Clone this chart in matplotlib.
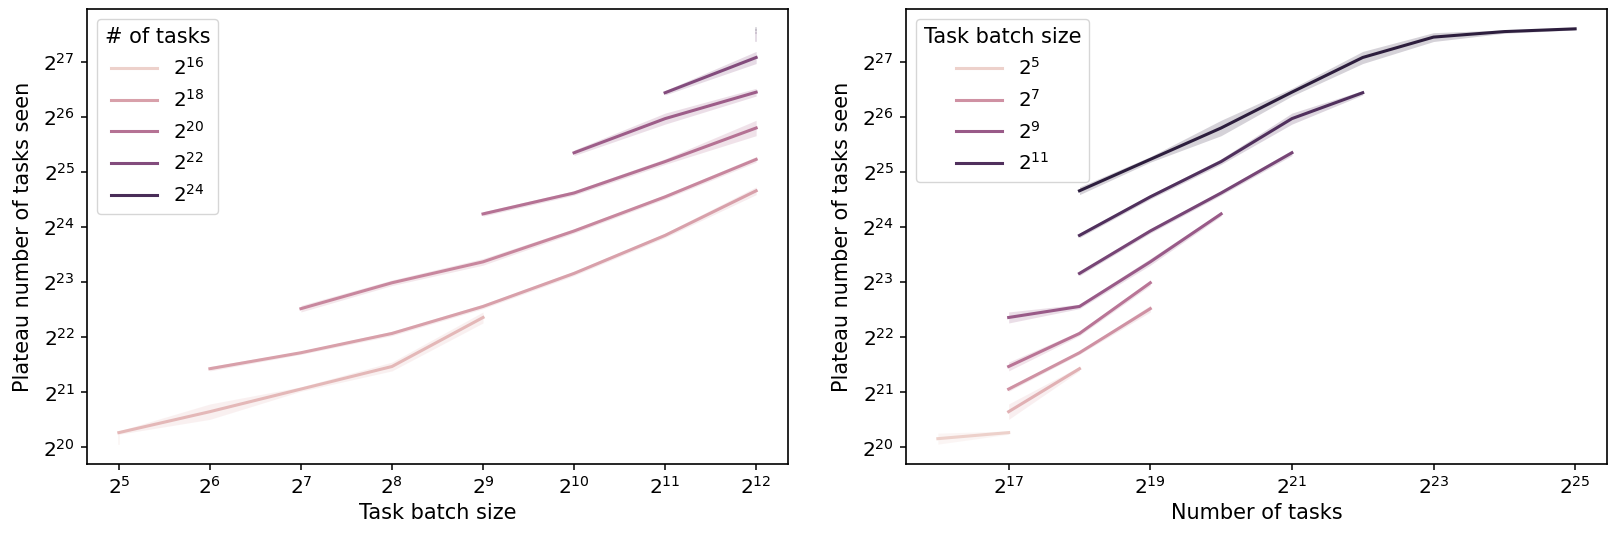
import numpy as np
import pandas as pd
import matplotlib
matplotlib.use("Agg")
import matplotlib.pyplot as plt
import seaborn as sns
from matplotlib.lines import Line2D
from matplotlib.ticker import FixedLocator, NullLocator

# ---- data (all values are log2) ----
task_exp = [16,
            17, 17, 17, 17, 17,
            18, 18, 18, 18, 18, 18, 18,
            19, 19, 19, 19, 19, 19,
            20, 20, 20, 20,
            21, 21, 21,
            22, 22,
            23, 24, 25]
batch_exp = [5,
             5, 6, 7, 8, 9,
             6, 7, 8, 9, 10, 11, 12,
             7, 8, 9, 10, 11, 12,
             9, 10, 11, 12,
             10, 11, 12,
             11, 12,
             12, 12, 12]
plateau_log2 = [20.16,
                20.27, 20.65, 21.06, 21.47, 22.36,
                21.43, 21.72, 22.07, 22.56, 23.16, 23.85, 24.66,
                22.52, 22.99, 23.37, 23.93, 24.55, 25.23,
                24.24, 24.62, 25.19, 25.80,
                25.35, 25.97, 26.45,
                26.44, 27.08,
                27.45, 27.55, 27.60]
ci_half_log2 = [0.10,
                0.03, 0.14, 0.04, 0.08, 0.10,
                0.04, 0.03, 0.04, 0.04, 0.04, 0.04, 0.07,
                0.06, 0.05, 0.06, 0.04, 0.04, 0.05,
                0.04, 0.04, 0.05, 0.14,
                0.05, 0.10, 0.07,
                0.04, 0.11,
                0.08, 0.03, 0.02]

left_legend_exp = [16, 18, 20, 22, 24]
right_legend_exp = [5, 7, 9, 11]

df = pd.DataFrame({"task": task_exp, "batch": batch_exp,
                   "y": plateau_log2, "h": ci_half_log2})

cmap = sns.cubehelix_palette(as_cmap=True)
LW = 2.2

fig = plt.figure(figsize=(16.13, 5.34), dpi=100)
W, H = 1613, 534
ax1 = fig.add_axes([87 / W, 70 / H, 701 / W, 455 / H])
ax2 = fig.add_axes([906 / W, 70 / H, 701 / W, 455 / H])


def draw(ax, xcol, hcol, hmin, hmax):
    for hv, g in df.groupby(hcol):
        g = g.sort_values(xcol)
        c = cmap((hv - hmin) / (hmax - hmin))
        x = 2.0 ** g[xcol].values
        y = g["y"].values
        h = g["h"].values
        if len(g) > 1:
            ax.fill_between(x, 2.0 ** (y - h), 2.0 ** (y + h), color=c,
                            alpha=0.2, linewidth=0)
            ax.plot(x, 2.0 ** y, color=c, lw=LW)
        else:
            ax.plot([x[0], x[0]], [2.0 ** (y[0] - h[0]), 2.0 ** (y[0] + h[0])],
                    color=c, alpha=0.2, lw=1.2)


draw(ax1, "batch", "task", 16, 25)
draw(ax2, "task", "batch", 5, 12)

for ax in (ax1, ax2):
    ax.set_xscale("log", base=2)
    ax.set_yscale("log", base=2)
    ax.set_ylim(2 ** 19.70, 2 ** 27.96)
    ax.yaxis.set_major_locator(FixedLocator([2.0 ** k for k in range(20, 28)]))
    ax.yaxis.set_minor_locator(NullLocator())
    ax.xaxis.set_minor_locator(NullLocator())
    ax.tick_params(labelsize=14.5, length=4.5, width=1.1, pad=4)
    for s in ax.spines.values():
        s.set_linewidth(1.2)
    ax.set_ylabel("Plateau number of tasks seen", fontsize=15, labelpad=7)

ax1.set_xlim(2 ** 4.65, 2 ** 12.35)
ax1.xaxis.set_major_locator(FixedLocator([2.0 ** k for k in range(5, 13)]))
ax1.set_xlabel("Task batch size", fontsize=15)
ax2.set_xlim(2 ** 15.55, 2 ** 25.45)
ax2.xaxis.set_major_locator(FixedLocator([2.0 ** k for k in range(17, 26, 2)]))
ax2.set_xlabel("Number of tasks", fontsize=15)
ax1.xaxis.set_minor_locator(NullLocator())
ax2.xaxis.set_minor_locator(NullLocator())


def legend(ax, exps, lo, hi, title):
    handles = [Line2D([], [], color=cmap((e - lo) / (hi - lo)), lw=LW) for e in exps]
    labels = [r"$\mathdefault{2^{%d}}$" % e for e in exps]
    ax.legend(handles, labels, title=title, loc="upper left", fontsize=14.3,
              title_fontsize=15, handlelength=2.3)


legend(ax1, left_legend_exp, 16, 25, "# of tasks")
legend(ax2, right_legend_exp, 5, 12, "Task batch size")

fig.savefig("out.png", dpi=100)
